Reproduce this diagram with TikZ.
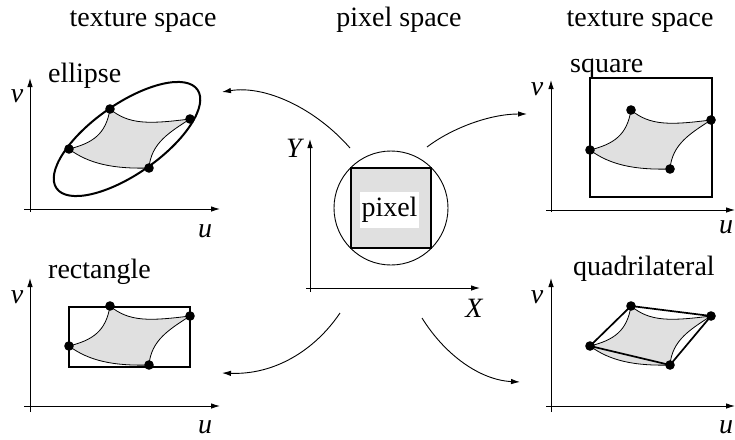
\documentclass[tikz,border=0pt]{standalone}
\usepackage{fontspec}
\setmainfont{Liberation Serif}
\usetikzlibrary{arrows.meta}
\definecolor{shade}{RGB}{224,224,224}
\newcommand\warpdots[1]{%
  \coordinate (#1A) at (39,60); \coordinate (#1B) at (80,100);
  \coordinate (#1C) at (160,90); \coordinate (#1D) at (119,41);}
\newcommand\warpfill[1]{%
  \filldraw[warp] (#1A) .. controls (63,66) and (76,75) .. (#1B)
    .. controls (99,84) and (120,85) .. (#1C)
    .. controls (140,77) and (121,66) .. (#1D)
    .. controls (84,40) and (59,45) .. (#1A) -- cycle;}
\newcommand\warpmarks[1]{\foreach \p in {A,B,C,D} \fill (#1\p) circle[radius=4.8];}
\begin{document}
\begin{tikzpicture}[x=1pt,y=-1pt,
  txt/.style={font=\fontsize{28}{30}\selectfont, inner sep=0pt},
  lbl/.style={font=\fontsize{28}{30}\selectfont\itshape, inner sep=0pt, anchor=base},
  axis/.style={line width=0.9pt, -{Latex[length=9pt,width=5.5pt]}},
  conn/.style={line width=0.9pt, -{Latex[length=9pt,width=5.5pt]}},
  warp/.style={fill=shade, draw=black, line width=0.8pt},
  outline/.style={line width=1.7pt},
  panel/.style={yscale=-1}]
\useasboundingbox (0,0) rectangle (735,439);

% titles
\node[txt, anchor=base] (t1) at (143,26) {texture space};
\node[txt, anchor=base] (t2) at (399,26) {pixel space};
\node[txt, anchor=base] (t3) at (640,26) {texture space};

% ---------- ellipse panel ----------
\begin{scope}[shift={(30,209)}, panel]
  \coordinate (eo1) at (0,-3); \coordinate (eo2) at (0,131);
  \coordinate (eo3) at (-6,0); \coordinate (eo4) at (190,0);
  \draw[axis] (eo1) -- (eo2);
  \draw[axis] (eo3) -- (eo4);
  \warpdots{e}
  \warpfill{e}
  \draw[outline, line width=2pt, rotate around={-35:(97,70)}] (97,70) ellipse [x radius=86, y radius=35];
  \warpmarks{e}
\end{scope}
\node[txt, anchor=base west] (le) at (48,82) {ellipse};
\node[lbl] (ev) at (17,102) {v};
\node[lbl] (eu) at (205,237) {u};

% ---------- rectangle panel ----------
\begin{scope}[shift={(30,406)}, panel]
  \coordinate (ro1) at (0,-6); \coordinate (ro2) at (0,128);
  \coordinate (ro3) at (-6,0); \coordinate (ro4) at (190,0);
  \draw[axis] (ro1) -- (ro2);
  \draw[axis] (ro3) -- (ro4);
  \warpdots{r}
  \warpfill{r}
  \draw[outline] (39,39) rectangle (160,99);
  \warpmarks{r}
\end{scope}
\node[txt, anchor=base west] (lr) at (48,278) {rectangle};
\node[lbl] (rv) at (17,303) {v};
\node[lbl] (ru) at (205,433) {u};

% ---------- square panel ----------
\begin{scope}[shift={(551,210)}, panel]
  \coordinate (so1) at (0,-2); \coordinate (so2) at (0,130);
  \coordinate (so3) at (-5,0); \coordinate (so4) at (184,0);
  \draw[axis] (so1) -- (so2);
  \draw[axis] (so3) -- (so4);
  \warpdots{s}
  \warpfill{s}
  \draw[outline] (39,13) rectangle (161,132);
  \warpmarks{s}
\end{scope}
\node[txt, anchor=base west] (ls) at (570,72) {square};
\node[lbl] (sv) at (537,95) {v};
\node[lbl] (su) at (726,233) {u};

% ---------- quadrilateral panel ----------
\begin{scope}[shift={(551,406)}, panel]
  \coordinate (qo1) at (0,-6); \coordinate (qo2) at (0,128);
  \coordinate (qo3) at (-5,0); \coordinate (qo4) at (184,0);
  \draw[axis] (qo1) -- (qo2);
  \draw[axis] (qo3) -- (qo4);
  \warpdots{q}
  \warpfill{q}
  \draw[outline, line join=round] (qA) -- (qB) -- (qC) -- (qD) -- cycle;
  \warpmarks{q}
\end{scope}
\node[txt, anchor=base west] (lq) at (573,275) {quadrilateral};
\node[lbl] (qv) at (537,303) {v};
\node[lbl] (qu) at (726,433) {u};

% ---------- pixel space ----------
\coordinate (po1) at (310,292); \coordinate (po2) at (310,139);
\coordinate (po3) at (306,288); \coordinate (po4) at (480,288);
\draw[axis] (po1) -- (po2);
\draw[axis] (po3) -- (po4);
\node[lbl] (pY) at (294,157) {Y};
\node[lbl] (pX) at (474,317) {X};
\filldraw[fill=shade, draw=black, line width=1.8pt] (351,168) rectangle (431,248);
\node[draw=black, line width=0.9pt, circle, minimum size=114pt, inner sep=0pt] (pc) at (391,208) {};
\node[fill=white, minimum width=59pt, minimum height=36pt, inner sep=0pt, font=\fontsize{28}{30}\selectfont] (pix) at (389.5,210) {pixel};

% connectors
\coordinate (c1s) at (350,148); \coordinate (c1e) at (222,92);
\coordinate (c2s) at (427,147); \coordinate (c2e) at (527,114);
\coordinate (c3s) at (340,313); \coordinate (c3e) at (222,373);
\coordinate (c4s) at (422,318); \coordinate (c4e) at (520,382);
\draw[conn] (c1s) .. controls (315,108) and (265,85) .. (c1e);
\draw[conn] (c2s) .. controls (452,128) and (490,114) .. (c2e);
\draw[conn] (c3s) .. controls (315,350) and (275,375) .. (c3e);
\draw[conn] (c4s) .. controls (445,355) and (480,380) .. (c4e);
\end{tikzpicture}
\end{document}
